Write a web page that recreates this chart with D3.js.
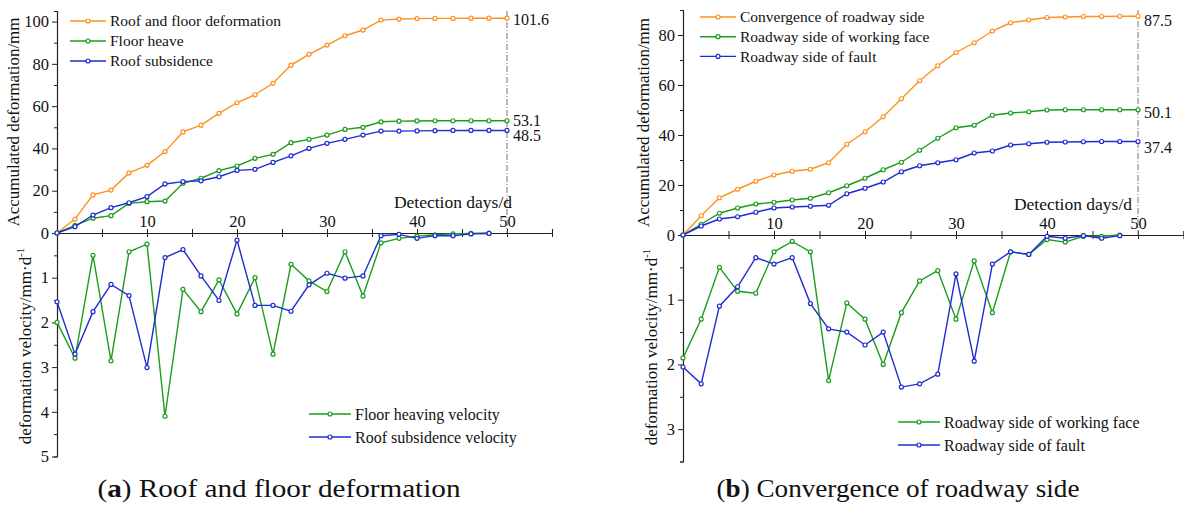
<!DOCTYPE html>
<html>
<head>
<meta charset="utf-8">
<script src="https://cdn.jsdelivr.net/npm/d3@7"></script>
<style>
  body { margin: 0; background: #fff; }
  svg { display: block; }
  text { font-family: "Liberation Serif", "Times New Roman", serif; fill: #111; }
</style>
</head>
<body>
<svg width="1184" height="506"></svg>
<script>
// Update data here
const days = d3.range(0, 51, 2);      // accumulated deformation, every 2 days
const velDays = d3.range(0, 49, 2);   // velocity, every 2 days

// (a) roof and floor
const roofFloor = [0, 6.6, 18, 20.3, 28.4, 32, 38.5, 47.8, 51, 56.6, 61.6, 65.4, 70.8, 79.4,
  84.5, 88.9, 93.3, 96, 100.7, 101.2, 101.4, 101.5, 101.5, 101.6, 101.6, 101.6];
const floorHeave = [0, 3.6, 7, 8.2, 14, 14.8, 15.1, 23.5, 25.9, 29.5, 31.7, 35.3, 37.2, 42.7,
  44.3, 46.3, 49, 50, 52.6, 52.9, 53, 53.1, 53.1, 53.1, 53.1, 53.1];
const roofSub = [0, 3, 8.5, 12, 14.3, 17.2, 23.2, 24.3, 24.7, 26.6, 29.6, 30.1, 33.4, 36.5,
  40, 42.4, 44.3, 46.3, 48.2, 48.2, 48.3, 48.4, 48.5, 48.5, 48.5, 48.5];
const floorVel = [2.0, 2.8, 0.5, 2.86, 0.42, 0.25, 4.1, 1.26, 1.76, 1.05, 1.81, 1.0, 2.71, 0.7,
  1.07, 1.31, 0.42, 1.41, 0.22, 0.12, 0.07, 0.04, 0.02, 0.01, 0];
const roofVel = [1.54, 2.71, 1.76, 1.15, 1.4, 3.01, 0.55, 0.37, 0.96, 1.51, 0.16, 1.62, 1.62, 1.75,
  1.16, 0.9, 1.01, 0.96, 0.06, 0.03, 0.12, 0.06, 0.06, 0.02, 0.01];

// (b) roadway sides
const sideConv = [0, 7.7, 14.9, 18.3, 21.5, 24, 25.5, 26.3, 28.9, 36.3, 41.3, 47.3, 54.5, 61.7,
  67.7, 73, 76.9, 81.6, 84.9, 86, 87, 87.2, 87.4, 87.4, 87.5, 87.5];
const sideWork = [0, 4.3, 8.7, 10.8, 12.4, 13.1, 14, 14.7, 16.9, 19.7, 22.7, 26.1, 29.1, 33.9,
  38.7, 42.9, 43.9, 47.9, 48.8, 49.3, 50, 50.1, 50.1, 50.1, 50.1, 50.1];
const sideFault = [0, 3.6, 6.4, 7.3, 9.1, 10.8, 11.2, 11.5, 11.9, 16.5, 18.7, 21.2, 25.3, 27.7,
  28.9, 30.1, 32.8, 33.6, 36, 36.5, 37.1, 37.2, 37.3, 37.4, 37.4, 37.4];
const workVel = [1.9, 1.3, 0.5, 0.87, 0.9, 0.26, 0.1, 0.26, 2.25, 1.05, 1.3, 2.0, 1.2, 0.71,
  0.55, 1.3, 0.4, 1.2, 0.26, 0.3, 0.07, 0.11, 0.02, 0.02, 0];
const faultVel = [2.04, 2.3, 1.1, 0.8, 0.35, 0.45, 0.35, 1.06, 1.45, 1.5, 1.7, 1.5, 2.35, 2.3,
  2.15, 0.6, 1.95, 0.45, 0.26, 0.3, 0.02, 0.05, 0.01, 0.05, 0.01];

const orange = "#ff8f1f", green = "#1c9c1c", blue = "#1f2bd2";

const svg = d3.select("svg");

function drawPanel(p) {
  const g = svg.append("g");
  const x = d3.scaleLinear().domain([0, 55]).range([p.x0, p.x1]);
  const y = d3.scaleLinear().domain([0, p.yMax]).range([p.y0, p.yTop]);
  const yv = d3.scaleLinear().domain([0, p.vMax]).range([p.y0, p.vBottom]);

  // y axes (accumulated up, velocity down)
  const yAx = g.append("g").attr("transform", `translate(${p.x0},0)`);
  yAx.append("g").call(d3.axisLeft(y).tickValues(p.yTicks).tickSizeInner(5).tickSizeOuter(0).tickPadding(3));
  yAx.append("g").call(d3.axisLeft(y).tickValues(p.yMinor).tickSize(3).tickFormat(""));
  yAx.append("g").call(d3.axisLeft(yv).tickValues(p.vTicks).tickSizeInner(5).tickSizeOuter(0)
    .tickPadding(3).tickFormat(d3.format("d")));
  yAx.append("g").call(d3.axisLeft(yv).tickValues(p.vMinor).tickSize(3).tickFormat(""));

  // x axis, ticks across the line, labels above
  const xAx = g.append("g").attr("transform", `translate(0,${p.y0})`);
  xAx.append("g").call(d3.axisTop(x).tickValues(d3.range(5, 56, 5)).tickSize(4).tickFormat(""));
  xAx.append("g").call(d3.axisBottom(x).tickValues(d3.range(5, 56, 5)).tickSize(4).tickSizeOuter(0).tickFormat(""));
  xAx.append("g").call(d3.axisTop(x).tickValues([10, 20, 30, 40, 50]).tickSize(0).tickPadding(6))
    .select(".domain").remove();

  g.selectAll(".domain").attr("stroke", "#222").attr("stroke-width", 1.1);
  g.selectAll(".tick line").attr("stroke", "#222");
  g.selectAll(".tick text").attr("font-family", "Liberation Serif, serif")
    .attr("font-size", 16.5).attr("fill", "#111");

  // dash-dot marker at day 50
  g.append("line")
    .attr("x1", x(50)).attr("x2", x(50))
    .attr("y1", p.yTop).attr("y2", p.y0)
    .attr("stroke", "#777").attr("stroke-width", 1)
    .attr("stroke-dasharray", "6,2,1,2");

  // series
  const drawSeries = (vals, xs, ys, color) => {
    const pts = vals.map((v, i) => [xs[i], v]);
    g.append("path")
      .datum(pts)
      .attr("fill", "none").attr("stroke", color).attr("stroke-width", 1.4)
      .attr("d", d3.line().x(d => x(d[0])).y(d => ys(d[1])));
    g.append("g").selectAll("circle")
      .data(pts).enter().append("circle")
      .attr("cx", d => x(d[0])).attr("cy", d => ys(d[1])).attr("r", 2)
      .attr("fill", "#fff").attr("stroke", color).attr("stroke-width", 1.2);
  };
  p.top.forEach(s => drawSeries(s.vals, days, y, s.color));
  p.vel.forEach(s => drawSeries(s.vals, velDays, yv, s.color));

  // end values
  p.top.forEach((s, i) => {
    g.append("text")
      .attr("x", x(50) + 6).attr("y", p.endY[i]).attr("dy", "0.35em")
      .attr("font-size", 16)
      .text(d3.format(".1f")(s.vals[s.vals.length - 1]));
  });

  g.append("text")
    .attr("x", p.detX).attr("y", p.y0 - 25)
    .attr("text-anchor", "end").attr("font-size", 17.5)
    .text("Detection days/d");

  // axis titles
  g.append("text")
    .attr("transform", `translate(${p.titleX},${(p.yTop + p.y0) / 2}) rotate(-90)`)
    .attr("text-anchor", "middle")
    .attr("font-family", "Liberation Sans, Arial, sans-serif").attr("font-size", 17)
    .text("Accumulated deformation/mm");
  const vt = g.append("text")
    .attr("transform", `translate(${p.vTitleX},${p.vTitleY}) rotate(-90)`)
    .attr("text-anchor", "middle")
    .attr("font-family", "Liberation Sans, Arial, sans-serif").attr("font-size", 17);
  vt.append("tspan").text("deformation velocity/mm\u00b7d");
  vt.append("tspan").attr("font-size", 11).attr("dy", -7).text("-1");

  // legends
  const legend = (items, lx, ly, step, len, fs) => {
    items.forEach((s, i) => {
      const yy = ly + i * step;
      g.append("line").attr("x1", lx).attr("x2", lx + len).attr("y1", yy).attr("y2", yy)
        .attr("stroke", s.color).attr("stroke-width", 1.4);
      g.append("circle").attr("cx", lx + len / 2).attr("cy", yy).attr("r", 2)
        .attr("fill", "#fff").attr("stroke", s.color).attr("stroke-width", 1.2);
      g.append("text").attr("x", lx + len + 4).attr("y", yy).attr("dy", "0.35em")
        .attr("font-size", fs).text(s.name);
    });
  };
  legend(p.top, p.legX, p.legY, p.legStep, 36, 15.5);
  legend(p.vel, p.vLegX, p.vLegY, 23, 42, 16);

  // caption
  const cap = g.append("text")
    .attr("x", p.capX).attr("y", 497)
    .attr("text-anchor", "middle").attr("font-size", 25);
  cap.append("tspan").text("(");
  cap.append("tspan").attr("font-weight", "bold").text(p.capLetter);
  cap.append("tspan").text(") " + p.caption);
  cap.attr("textLength", 363).attr("lengthAdjust", "spacingAndGlyphs");
}

drawPanel({
  x0: 57, x1: 552, y0: 233, yTop: 11, yMax: 105, vBottom: 456.5, vMax: 5,
  yTicks: [0, 20, 40, 60, 80, 100], yMinor: [10, 30, 50, 70, 90],
  vTicks: [1, 2, 3, 4, 5], vMinor: [0.5, 1.5, 2.5, 3.5, 4.5],
  top: [
    { name: "Roof and floor deformation", vals: roofFloor, color: orange },
    { name: "Floor heave", vals: floorHeave, color: green },
    { name: "Roof subsidence", vals: roofSub, color: blue }
  ],
  vel: [
    { name: "Floor heaving velocity", vals: floorVel, color: green },
    { name: "Roof subsidence velocity", vals: roofVel, color: blue }
  ],
  endY: [19, 120, 135], detX: 512,
  titleX: 19, vTitleX: 31, vTitleY: 346,
  legX: 70, legY: 21, legStep: 20, vLegX: 309, vLegY: 414,
  capX: 279, capLetter: "a", caption: "Roof and floor deformation"
});

drawPanel({
  x0: 683, x1: 1183.5, y0: 235, yTop: 10, yMax: 90, vBottom: 461.5, vMax: 3.5,
  yTicks: [0, 20, 40, 60, 80], yMinor: [10, 30, 50, 70],
  vTicks: [1, 2, 3], vMinor: [0.5, 1.5, 2.5, 3.5],
  top: [
    { name: "Convergence of roadway side", vals: sideConv, color: orange },
    { name: "Roadway side of working face", vals: sideWork, color: green },
    { name: "Roadway side of fault", vals: sideFault, color: blue }
  ],
  vel: [
    { name: "Roadway side of working face", vals: workVel, color: green },
    { name: "Roadway side of fault", vals: faultVel, color: blue }
  ],
  endY: [20, 112, 147], detX: 1132,
  titleX: 649, vTitleX: 657, vTitleY: 347,
  legX: 700, legY: 17, legStep: 19.7, vLegX: 898, vLegY: 422,
  capX: 898, capLetter: "b", caption: "Convergence of roadway side"
});
</script>
</body>
</html>
